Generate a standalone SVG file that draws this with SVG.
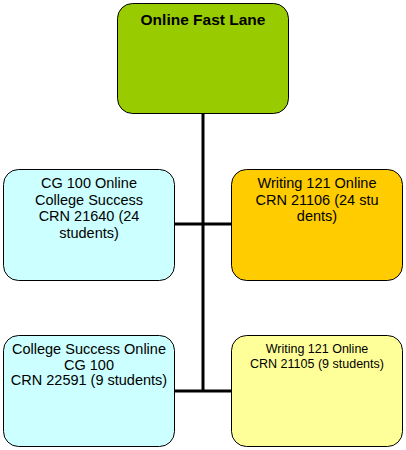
<svg xmlns="http://www.w3.org/2000/svg" width="406" height="450" viewBox="0 0 406 450">
<style>
.box{stroke:#000;stroke-width:1}
.t{font-family:"Liberation Sans",Arial,sans-serif;font-size:14.5px;fill:#000;text-anchor:middle}
.s{font-size:12.5px}
.b{font-weight:bold;font-size:15.5px}
.c{stroke:#000;stroke-width:3;fill:none}
</style>
<rect width="406" height="450" fill="#fff"/>
<g id="connectors">
<line class="c" x1="203" y1="113" x2="203" y2="392"/>
<line class="c" x1="175" y1="224" x2="231" y2="224"/>
<line class="c" x1="175" y1="391" x2="231" y2="391"/>
</g>
<g id="n-top">
<rect class="box" x="117.5" y="3.5" width="171" height="110" rx="15" fill="#99CC00"/>
<text class="t b" x="203" y="25">Online Fast Lane</text>
</g>
<g id="n-cg100">
<rect class="box" x="3.5" y="169.5" width="171" height="111" rx="15" fill="#CCFFFF"/>
<text class="t" x="89" y="188">CG 100 Online</text>
<text class="t" x="89" y="205">College Success</text>
<text class="t" x="89" y="221">CRN 21640 (24</text>
<text class="t" x="89" y="238">students)</text>
</g>
<g id="n-wr21106">
<rect class="box" x="231.5" y="169.5" width="171" height="111" rx="15" fill="#FFCC00"/>
<text class="t" x="317" y="188">Writing 121 Online</text>
<text class="t" x="317" y="205">CRN 21106 (24 stu</text>
<text class="t" x="317" y="221">dents)</text>
</g>
<g id="n-cg22591">
<rect class="box" x="3.5" y="335.5" width="171" height="111" rx="15" fill="#CCFFFF"/>
<text class="t" x="89" y="354">College Success Online</text>
<text class="t" x="89" y="370">CG 100</text>
<text class="t" x="89" y="385">CRN 22591 (9 students)</text>
</g>
<g id="n-wr21105">
<rect class="box" x="231.5" y="335.5" width="171" height="111" rx="15" fill="#FFFF99"/>
<text class="t s" x="317" y="353">Writing 121 Online</text>
<text class="t s" x="317" y="368">CRN 21105 (9 students)</text>
</g>
</svg>
